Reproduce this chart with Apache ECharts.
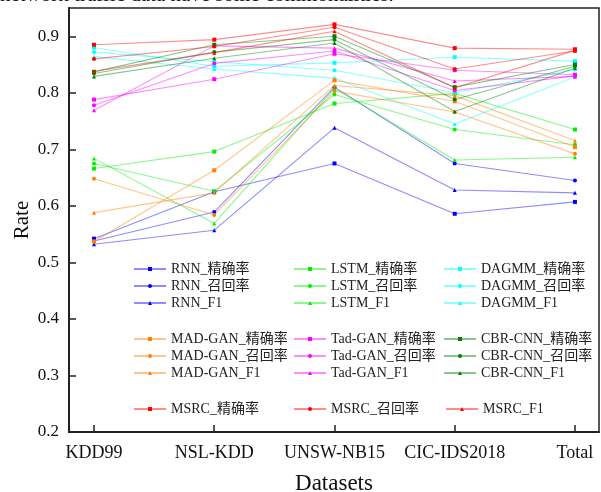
<!DOCTYPE html>
<html><head><meta charset="utf-8">
<script src="https://cdn.jsdelivr.net/npm/echarts@6/dist/echarts.min.js"></script>
<style>html,body{margin:0;padding:0;background:#fff}#c{width:601px;height:492px}</style>
</head><body><div id="c"></div>
<script>
const categories = ['KDD99', 'NSL-KDD', 'UNSW-NB15', 'CIC-IDS2018', 'Total'];
const yTicks = [0.2, 0.3, 0.4, 0.5, 0.6, 0.7, 0.8, 0.9];

const rnnPrecision = [0.542, 0.625, 0.675, 0.586, 0.607];
const rnnRecall    = [0.538, 0.589, 0.810, 0.675, 0.645];
const rnnF1        = [0.532, 0.557, 0.738, 0.628, 0.623];

const lstmPrecision = [0.666, 0.696, 0.781, 0.799, 0.735];
const lstmRecall    = [0.675, 0.626, 0.797, 0.735, 0.708];
const lstmF1        = [0.684, 0.569, 0.808, 0.681, 0.686];

const dagmmPrecision = [0.880, 0.847, 0.853, 0.863, 0.856];
const dagmmRecall    = [0.872, 0.855, 0.840, 0.800, 0.841];
const dagmmF1        = [0.864, 0.842, 0.826, 0.745, 0.828];

const madPrecision = [0.537, 0.663, 0.822, 0.785, 0.704];
const madRecall    = [0.648, 0.584, 0.803, 0.766, 0.692];
const madF1        = [0.588, 0.623, 0.813, 0.795, 0.715];

const tadPrecision = [0.788, 0.824, 0.869, 0.840, 0.832];
const tadRecall    = [0.778, 0.852, 0.874, 0.804, 0.830];
const tadF1        = [0.769, 0.883, 0.879, 0.821, 0.829];

const cbrPrecision = [0.837, 0.885, 0.900, 0.810, 0.850];
const cbrRecall    = [0.834, 0.872, 0.894, 0.788, 0.847];
const cbrF1        = [0.829, 0.861, 0.888, 0.767, 0.844];

const msrcPrecision = [0.885, 0.894, 0.921, 0.879, 0.877];
const msrcRecall    = [0.860, 0.882, 0.916, 0.842, 0.874];
const msrcF1        = [0.838, 0.871, 0.909, 0.809, 0.875];

const models = [
  {name: 'RNN', color: '#0000ff', data: [rnnPrecision, rnnRecall, rnnF1]},
  {name: 'LSTM', color: '#00ee00', data: [lstmPrecision, lstmRecall, lstmF1]},
  {name: 'DAGMM', color: '#00ffff', data: [dagmmPrecision, dagmmRecall, dagmmF1]},
  {name: 'MAD-GAN', color: '#ff8000', data: [madPrecision, madRecall, madF1]},
  {name: 'Tad-GAN', color: '#ff00ff', data: [tadPrecision, tadRecall, tadF1]},
  {name: 'CBR-CNN', color: '#008000', data: [cbrPrecision, cbrRecall, cbrF1]},
  {name: 'MSRC', color: '#ff0000', data: [msrcPrecision, msrcRecall, msrcF1]}
];
const metrics = ['精确率', '召回率', 'F1'];
const symbols = ['rect', 'circle', 'triangle'];

const FONT = "'Liberation Serif', 'Times New Roman', 'Noto Sans CJK SC', serif";

const series = [];
models.forEach(m => {
  m.data.forEach((arr, k) => {
    series.push({
      name: m.name + '_' + metrics[k],
      type: 'line',
      data: arr.map((v, i) => [i, v]),
      symbol: symbols[k],
      symbolSize: 4,
      itemStyle: {color: m.color},
      lineStyle: {color: m.color, width: 1.1, opacity: 0.45},
      emphasis: {disabled: true},
      z: 2
    });
  });
});

const legendPos = [
  {left: 133, top: 262}, {left: 293, top: 262}, {left: 443, top: 262},
  {left: 133, top: 332}, {left: 293, top: 332}, {left: 443, top: 332}
];
const legendText = {fontFamily: FONT, fontSize: 14, lineHeight: 14, color: '#222'};
const legends = [];
models.forEach((m, idx) => {
  const names = metrics.map(t => m.name + '_' + t);
  if (idx < 6) {
    legends.push({
      orient: 'vertical', left: legendPos[idx].left, top: legendPos[idx].top,
      data: names, itemWidth: 32, itemHeight: 5, itemGap: 3, padding: 0,
      selectedMode: false, textStyle: legendText
    });
  } else {
    const lefts = [133, 293, 445];
    names.forEach((n, j) => legends.push({
      orient: 'horizontal', left: lefts[j], top: 402,
      data: [n], itemWidth: 32, itemHeight: 5, padding: 0,
      selectedMode: false, textStyle: legendText
    }));
  }
});

const chart = echarts.init(document.getElementById('c'), null, {renderer: 'canvas'});
chart.setOption({
  animation: false,
  backgroundColor: '#fff',
  graphic: [{
    type: 'text', x: 0, y: 6, silent: true,
    style: {text: 'network traffic data have some commonalities.', font: "21px 'Liberation Serif', serif", fill: '#111', verticalAlign: 'bottom', align: 'left'}
  }],
  grid: {left: 69, right: 2, top: 8, bottom: 60, outerBoundsMode: 'none', containLabel: false,
    show: true, borderColor: '#222', borderWidth: 1.5, backgroundColor: 'transparent'},
  legend: legends,
  xAxis: {
    type: 'value', min: -0.208, max: 4.2,
    name: 'Datasets', nameLocation: 'middle', nameGap: 40, nameMoveOverlap: false,
    nameTextStyle: {fontFamily: FONT, fontSize: 23, color: '#111'},
    axisLine: {show: true, onZero: false, lineStyle: {color: '#222', width: 2}},
    axisTick: {show: true, inside: true, length: 7, lineStyle: {color: '#222', width: 1.5}, customValues: categories.map((c, i) => i)},
    axisLabel: {fontFamily: FONT, fontSize: 18, color: '#111', margin: 12,
      customValues: categories.map((c, i) => i),
      formatter: v => categories[Math.round(v)] || ''},
    splitLine: {show: false}
  },
  yAxis: {
    type: 'value', min: 0.2, max: 0.95,
    name: 'Rate', nameLocation: 'middle', nameGap: 36, nameMoveOverlap: false,
    nameTextStyle: {fontFamily: FONT, fontSize: 21, color: '#111'},
    axisLine: {show: true, onZero: false, lineStyle: {color: '#222', width: 2}},
    axisTick: {show: true, inside: true, length: 7, lineStyle: {color: '#222', width: 1.5}, customValues: yTicks},
    axisLabel: {fontFamily: FONT, fontSize: 17, color: '#111', margin: 10,
      customValues: yTicks, formatter: v => v.toFixed(1)},
    splitLine: {show: false}
  },
  series: series
});
</script></body></html>
